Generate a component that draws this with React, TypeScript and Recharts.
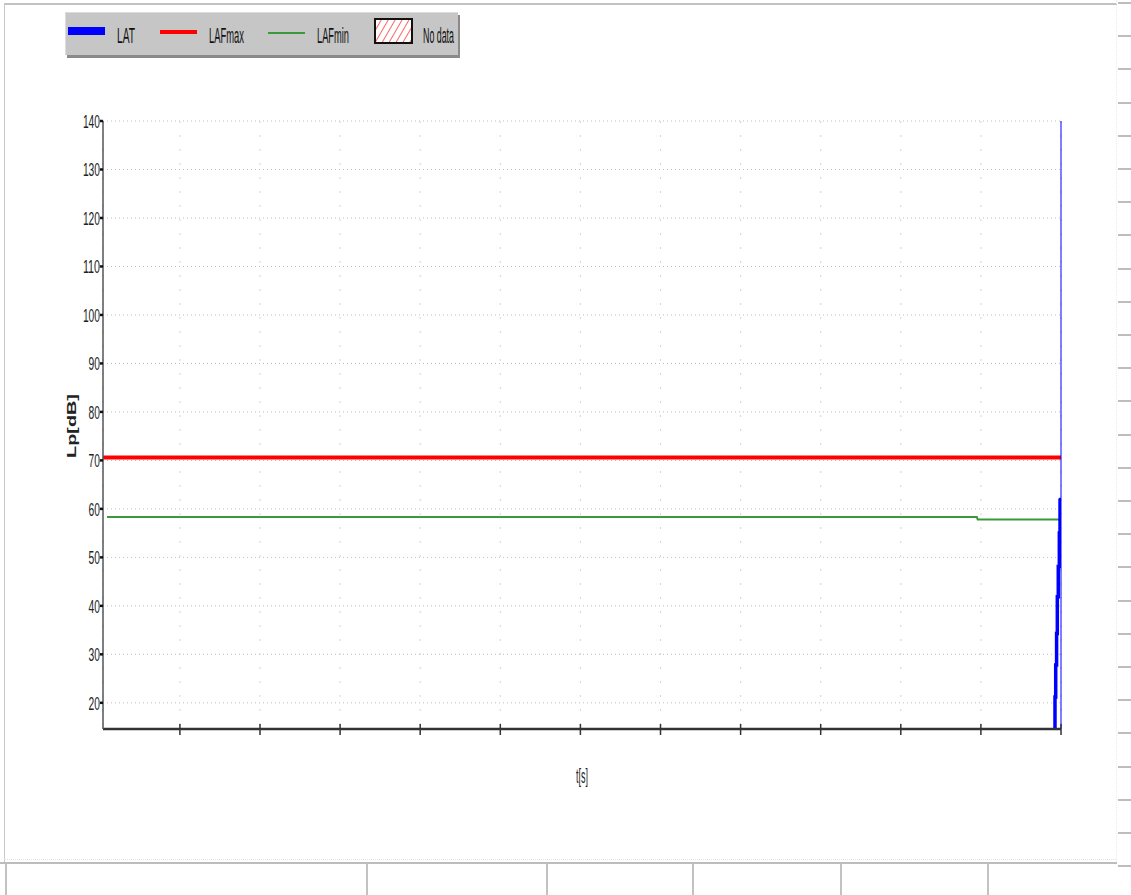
import React from 'react';
import {
  LineChart,
  Line,
  XAxis,
  YAxis,
  CartesianGrid,
  ReferenceLine,
  Legend,
} from 'recharts';

// time axis [s] – tick positions only, the original shows no tick labels
const timeTicks = [0.96, 1.96, 2.96, 3.96, 4.96, 5.96, 6.96, 7.96, 8.96, 9.96, 10.96, 11.96];
const timeDomain = [0, 11.96];
const levelTicks = [20, 30, 40, 50, 60, 70, 80, 90, 100, 110, 120, 130, 140];
const levelDomain = [14.6, 140];

// LAFmax
const lafmaxT = [0, 11.96];
const lafmaxV = [70.6, 70.6];

// LAFmin
const lafminT = [0.05, 10.91, 10.92, 11.96];
const lafminV = [58.3, 58.3, 57.8, 57.8];

// LAT (rising at the very end of the record)
const latT = [11.876, 11.885, 11.894, 11.905, 11.914, 11.926, 11.939, 11.948, 11.958];
const latV = [14.6, 21.2, 27.8, 34.3, 41.9, 48.1, 55.0, 61.8, 62.3];

const cursorT = 11.96;

const toRows = (t: number[], v: number[]) => t.map((x, i) => ({ t: x, v: v[i] }));

const lafmaxData = toRows(lafmaxT, lafmaxV);
const lafminData = toRows(lafminT, lafminV);
const latData = toRows(latT, latV);

const FONT = '"Liberation Sans", Arial, sans-serif';
const CHAR_W = 5.7;

const YTick = (props: any) => {
  const { x, y, payload } = props;
  const s = String(payload.value);
  return (
    <text
      x={x}
      y={y + 7}
      textAnchor="end"
      fontFamily={FONT}
      fontSize={19}
      fill="#222"
      textLength={s.length * CHAR_W}
      lengthAdjust="spacingAndGlyphs"
    >
      {s}
    </text>
  );
};

// tick mark crossing the time axis, no label
const XTick = (props: any) => {
  const { x, y } = props;
  return <line x1={x} x2={x} y1={y - 5} y2={y + 6} stroke="#333" strokeWidth={1.5} />;
};

const YLabel = (props: any) => {
  const { viewBox } = props;
  const cx = viewBox.x + 29;
  const cy = viewBox.y + viewBox.height / 2 + 1;
  return (
    <text
      transform={`translate(${cx},${cy}) rotate(-90)`}
      x={0}
      y={4}
      textAnchor="middle"
      fontFamily={FONT}
      fontWeight="bold"
      fontSize={12}
      fill="#222"
      textLength={64}
      lengthAdjust="spacingAndGlyphs"
    >
      Lp[dB]
    </text>
  );
};

const XLabel = (props: any) => {
  const { viewBox } = props;
  const cx = viewBox.x + viewBox.width / 2;
  return (
    <text
      x={cx}
      y={783}
      textAnchor="middle"
      fontFamily={FONT}
      fontSize={20}
      fill="#222"
      textLength={12}
      lengthAdjust="spacingAndGlyphs"
    >
      t[s]
    </text>
  );
};

const LegendText = ({ x, w, children }: { x: number; w: number; children: string }) => (
  <text
    x={x}
    y={30}
    fontFamily={FONT}
    fontSize={22}
    fill="#111"
    textLength={w}
    lengthAdjust="spacingAndGlyphs"
  >
    {children}
  </text>
);

const LegendBox = () => (
  <div
    style={{
      width: 392,
      height: 42,
      background: '#c6c6c6',
      borderTop: '1px solid #dcdcdc',
      borderLeft: '1px solid #dcdcdc',
      boxShadow: '2px 3px 0 #8a8a8a',
    }}
  >
    <svg width={392} height={42} style={{ display: 'block', overflow: 'visible' }}>
      <defs>
        <pattern id="hatch" width={6} height={6} patternUnits="userSpaceOnUse" patternTransform="rotate(30)">
          <rect width={6} height={6} fill="#fff" />
          <line x1={0} y1={0} x2={0} y2={6} stroke="#ff3030" strokeWidth={1.5} />
        </pattern>
      </defs>
      <rect x={2} y={14} width={37} height={8} fill="#0000ff" />
      <LegendText x={51} w={18}>LAT</LegendText>
      <rect x={94} y={17} width={37} height={4} fill="#ff0000" />
      <LegendText x={143} w={35}>LAFmax</LegendText>
      <rect x={202} y={19} width={37} height={2} fill="#3a993a" />
      <LegendText x={251} w={32}>LAFmin</LegendText>
      <rect x={309} y={6} width={37} height={24} fill="url(#hatch)" stroke="#111" strokeWidth={2} />
      <LegendText x={357} w={31}>No data</LegendText>
    </svg>
  </div>
);

const Chrome = () => {
  const dashes = Array.from({ length: 27 }, (_, k) => 2 + k * 33.2);
  const cells = [5, 366, 546, 692, 840, 987];
  return (
    <>
      <div style={{ position: 'absolute', left: 4, top: 3, width: 1113, height: 2, background: '#c2c2c2' }} />
      <div style={{ position: 'absolute', left: 4, top: 4, width: 1, height: 858, background: '#c8c8c8' }} />
      <div style={{ position: 'absolute', left: 1116, top: 0, width: 0, height: 862, borderLeft: '1px dotted #ececec' }} />
      <div style={{ position: 'absolute', left: 0, top: 862, width: 1117, height: 2, background: '#bdbdbd' }} />
      <div style={{ position: 'absolute', left: 4, top: 859, width: 1112, height: 0, borderTop: '1px dotted #e2e2e2' }} />
      {cells.map((x) => (
        <div key={x} style={{ position: 'absolute', left: x, top: 864, width: 2, height: 31, background: '#c2c2c2' }} />
      ))}
      {dashes.map((y) => (
        <div key={y} style={{ position: 'absolute', left: 1118, top: y, width: 13, height: 2, background: '#bdbdbd' }} />
      ))}
    </>
  );
};

export default function App() {
  return (
    <div style={{ position: 'absolute', left: 0, top: 0, width: 1131, height: 895, background: '#fff', overflow: 'hidden' }}>
      <Chrome />
      <div style={{ position: 'absolute', left: 0, top: 0 }}>
        <LineChart width={1131} height={895} margin={{ top: 121, right: 70, bottom: 106, left: 43 }}>
          <CartesianGrid horizontal vertical={false} stroke="#bdbdbd" strokeDasharray="1 3" />
          <CartesianGrid horizontal={false} vertical stroke="#d4d4d4" strokeDasharray="2 12" />
          <XAxis
            type="number"
            dataKey="t"
            domain={timeDomain}
            ticks={timeTicks}
            allowDataOverflow
            height={60}
            tickSize={0}
            tickMargin={0}
            tickLine={false}
            tick={<XTick />}
            axisLine={{ stroke: '#333', strokeWidth: 2.5 }}
            label={<XLabel />}
          />
          <YAxis
            type="number"
            dataKey="v"
            domain={levelDomain}
            ticks={levelTicks}
            allowDataOverflow
            width={60}
            tickSize={3}
            tickMargin={0}
            tickLine={{ stroke: '#111', strokeWidth: 2.5 }}
            tick={<YTick />}
            axisLine={{ stroke: '#555', strokeWidth: 1.5 }}
            label={<YLabel />}
          />
          <Legend
            layout="vertical"
            align="center"
            verticalAlign="middle"
            wrapperStyle={{ left: 65, top: 12, width: 398, height: 46 }}
            content={() => <LegendBox />}
          />
          <Line
            data={lafmaxData}
            dataKey="v"
            name="LAFmax"
            stroke="#ff0000"
            strokeWidth={4}
            dot={false}
            isAnimationActive={false}
          />
          <Line
            data={lafminData}
            dataKey="v"
            name="LAFmin"
            stroke="#3a993a"
            strokeWidth={2}
            dot={false}
            isAnimationActive={false}
          />
          <Line
            data={latData}
            dataKey="v"
            name="LAT"
            type="stepAfter"
            stroke="#0000ff"
            strokeWidth={3.5}
            dot={false}
            isAnimationActive={false}
          />
          <ReferenceLine x={cursorT} stroke="#0000ff" strokeWidth={1} />
        </LineChart>
      </div>
    </div>
  );
}
